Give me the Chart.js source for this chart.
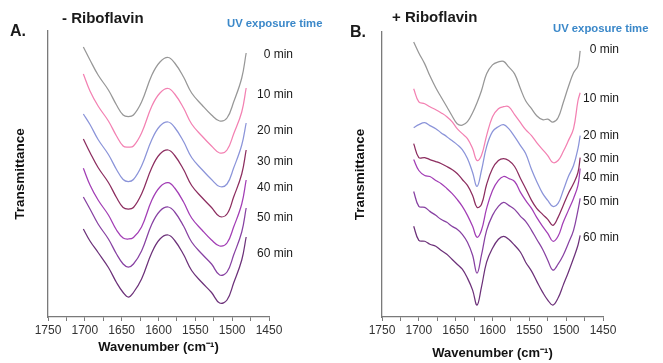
<!DOCTYPE html>
<html>
<head>
<meta charset="utf-8">
<script src="https://cdn.jsdelivr.net/npm/chart.js@4/dist/chart.umd.min.js"></script>
<style>
  html, body { margin: 0; padding: 0; background: #fff; }
  #wrap { position: relative; width: 663px; height: 363px; overflow: hidden; font-family: 'Liberation Sans', Arial, sans-serif; }
  canvas { position: absolute; left: 0; top: 0; }
  .t { position: absolute; white-space: nowrap; line-height: 1; color: #1a1a1a; }
</style>
</head>
<body>
<div id="wrap">
  <canvas id="cA" width="663" height="363"></canvas>
  <canvas id="cB" width="663" height="363"></canvas>
</div>
<script>
// ---- data (arbitrary transmittance units, offset stacked as in the figure) ----
const times = ['0 min', '10 min', '20 min', '30 min', '40 min', '50 min', '60 min'];
const xTickLabels = [1750, 1700, 1650, 1600, 1550, 1500, 1450];

// Panel A: - Riboflavin
const waveA = [1702,1693,1682,1668,1657,1648,1641,1634,1623,1609,1598,1587,1578,1566,1555,1541,1528,1517,1507,1498,1487,1481];
const A0  = [270,257,242,227,212,202,200.5,202,215,242,255,259.5,254,240,224,212,202,196,199,215,239,264];
const A10 = [243,226,211,196,181,171,170,171,184,211,224,228.5,223,209,193,181,171,164,167,183,205,229];
const A20 = [203,192.5,177.5,162.5,147.5,137.5,135.5,137.5,151,177.5,191,195,189.5,175.5,159.5,147.5,137.5,130.5,133,149,172,194];
const A30 = [178,164.5,149.5,134.5,119.5,109.5,108,109.5,123,149.5,163,167,161.5,147.5,131.5,119.5,109.5,100.5,103,120,143,167];
const A40 = [148.7,132,117,102,87,79,78,79.5,90,117,130,134.3,129,115,99,87,77,71,74,90,113,137];
const A50 = [120,108,93,78,63,53,50,53,66,93,106,110,105,91,75,63,53,42,45,62,85,109];
const A60 = [88,76,64.5,49.5,34.5,24.5,20,24.5,38,64.5,78,82,76.5,62.5,46.5,34.5,24.5,14,17,34,57,80];

// Panel B: + Riboflavin
const waveB = [1707,1700,1692,1685,1677,1670,1662,1655,1648,1641,1634,1627,1621,1615,1608,1600,1592,1585,1578,1570,1562,1555,1547,1540,1532,1525,1518,1511,1504,1497,1490,1484,1481];
const B0  = [276,265,254,242,230,221,211,202,194,192.5,196,205,215,227,244,253,256,256.5,251,244,229,217,209,202,198,198.5,195.5,200,215,231,245,252,267];
const B10 = [229,216,214,211,208,205,201,196,189,184,179,169,157,162,182,201,209,211,211,203,195,188,182,175,168,162,155,157,166,177,189,217,225];
const B20 = [190,193,195,192,189,185,181,177,173,168,159,145,131,147,171,186,191,193,189,181,172,164,148,136,124,117,111,114,127,141,152,169,182];
const B30 = [174,160,160,158,156,154,151,148,144,138,132,122,110,113,133,149,157,159,157,151,139,129,117,109,103,98,92,100,112,124,134,145,160];
const B40 = [158,147,142,141,137,134,129,124,118,111,102,91,80,87,109,127,137,141,139,136,125,117,109,100,91,84,76,81,95,107,119,132,149];
const B50 = [126,111,110,106,102,98,95,91,88,83,75,62,44,62,87,102,111,115,112,108,101,96,87,78,68,57,47,53,62,74,87,107,119];
const B60 = [91,77,76,73,71,67,63,58,53,48,39,27,12,30,55,69,78,81,78,72,65,55,46,36,25,17,12,19,32,45,59,72,82];

// ---- styling ----
const colors = ['#979797', '#f381b2', '#8b94d9', '#8c2d5f', '#a23db5', '#8741a2', '#6c3179'];
const FONT = "'Liberation Sans', Arial, sans-serif";
Chart.defaults.font.family = FONT;

function makeChart(id, waves, series, cfg) {
  const datasets = series.map((vals, i) => ({
    label: times[i],
    data: waves.map((w, j) => ({ x: w, y: vals[j] })),
    borderColor: colors[i],
    borderWidth: 1.25,
    pointRadius: 0,
    fill: false,
    tension: 0.4
  }));
  return new Chart(document.getElementById(id), {
    type: 'line',
    data: { datasets },
    options: {
      responsive: false,
      animation: false,
      devicePixelRatio: 1,
      layout: { padding: { left: cfg.padLeft, right: cfg.padRight, top: cfg.padTop, bottom: 0 } },
      plugins: { legend: { display: false }, tooltip: { enabled: false } },
      scales: {
        x: {
          type: 'linear', reverse: true, min: 1450, max: 1750,
          ticks: {
            stepSize: 25, autoSkip: false, maxRotation: 0, padding: 2,
            color: '#333', font: { size: 12 },
            callback: v => xTickLabels.includes(v) ? String(v) : ''
          },
          grid: { display: true, drawOnChartArea: false, drawTicks: true, tickLength: 4, tickColor: '#7a7a7a', tickWidth: 1 },
          border: { display: true, color: '#7a7a7a', width: 1.3 },
          title: { display: true, text: 'Wavenumber (cm⁻¹)', color: '#111', font: { size: 13, weight: 'bold' }, padding: { top: 0, bottom: cfg.xTitlePad } },
          afterFit: s => { s.height = 46; }
        },
        y: {
          min: 0, max: 286,
          ticks: { display: false },
          grid: { display: false },
          border: { display: true, color: '#7a7a7a', width: 1.3 },
          title: { display: true, text: 'Transmittance', color: '#111', font: { size: 13.5, weight: 'bold' }, padding: { top: 12, bottom: 0 } },
          afterFit: s => { s.width = cfg.yWidth; }
        }
      }
    }
  });
}

makeChart('cA', waveA, [A0, A10, A20, A30, A40, A50, A60], { padLeft: 0, padRight: 394, padTop: 31, yWidth: 48, xTitlePad: 8 });
makeChart('cB', waveB, [B0, B10, B20, B30, B40, B50, B60], { padLeft: 340, padRight: 60, padTop: 32, yWidth: 42, xTitlePad: 2 });

// ---- text overlays ----
const wrap = document.getElementById('wrap');
function addText(txt, x, y, opts) {
  const d = document.createElement('div');
  d.className = 't';
  d.textContent = txt;
  d.style.left = x + 'px';
  d.style.top = y + 'px';
  d.style.fontSize = (opts.size || 12) + 'px';
  if (opts.bold) d.style.fontWeight = 'bold';
  if (opts.color) d.style.color = opts.color;
  const ax = opts.align === 'right' ? '-100%' : (opts.align === 'center' ? '-50%' : '0');
  d.style.transform = 'translate(' + ax + ', -50%)';
  wrap.appendChild(d);
}
addText('A.', 10, 31, { size: 16, bold: true });
addText('B.', 350, 32, { size: 16, bold: true });
addText('- Riboflavin', 62, 17, { size: 15, bold: true });
addText('+ Riboflavin', 392, 16, { size: 15, bold: true });
addText('UV exposure time', 227, 24, { size: 11.3, bold: true, color: '#3b88c9' });
addText('UV exposure time', 553, 29, { size: 11.3, bold: true, color: '#3b88c9' });

const labelYA = [54, 94, 130, 161, 187, 217, 253];
const labelYB = [49, 98, 135, 158, 177, 201, 237];
times.forEach((t, i) => {
  addText(t, 293, labelYA[i], { size: 12, align: 'right' });
  addText(t, 619, labelYB[i], { size: 12, align: 'right' });
});
</script>
</body>
</html>
